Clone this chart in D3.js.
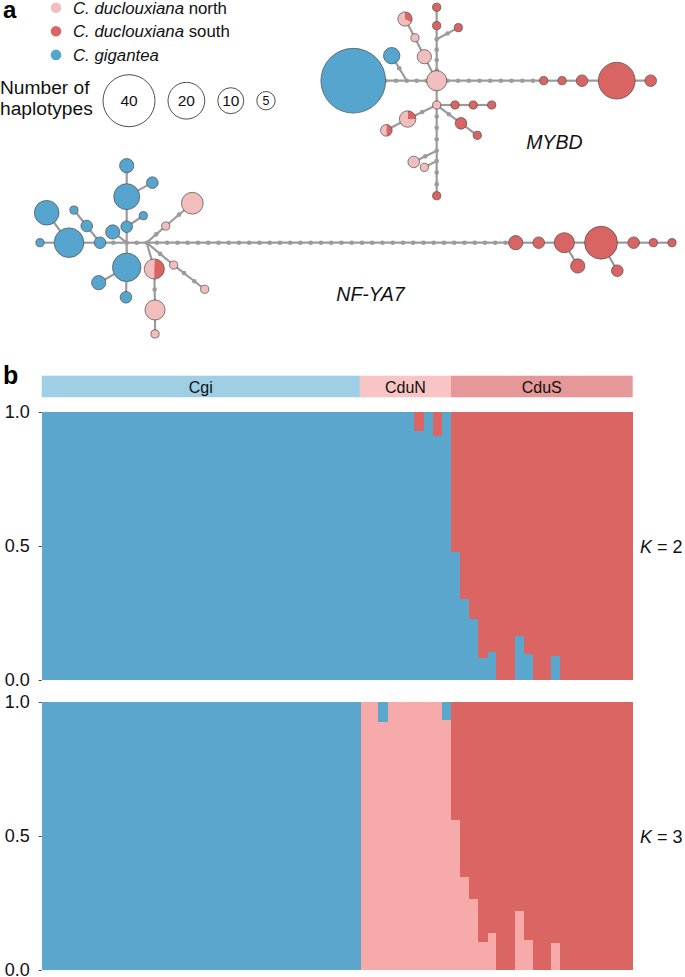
<!DOCTYPE html>
<html><head><meta charset="utf-8">
<script src="https://cdn.jsdelivr.net/npm/d3@7"></script>
<style>
html,body{margin:0;padding:0;background:#fff;}
svg{display:block;font-family:"Liberation Sans",Arial,Helvetica,sans-serif;}
</style></head><body>
<svg id="fig" width="685" height="977"></svg>
<script>
// ================= DATA =================
const populations = ["C. duclouxiana north", "C. duclouxiana south", "C. gigantea"];
const legendSizes = [40, 20, 10, 5];

// Haplotype networks: layout coordinates in mutational-step units (network layout output),
// counts = [north, south, gigantea]; nodes without counts are median vectors.
const mybdNodes = [
  {id:"C",   x:0,     y:0,     n:[6,0,0]},
  {id:"B",   x:-8.10, y:0,     n:[0,0,62]},
  {id:"J1",  x:-2.91, y:0,     n:[0,0,0]},
  {id:"S",   x:-4.37, y:-2.43, n:[0,0,4]},
  {id:"P1",  x:-1.20, y:-2.33, n:[3,0,0]},
  {id:"P2",  x:-2.11, y:-4.17, n:[1,0,0]},
  {id:"P3",  x:-3.08, y:-5.99, n:[2,1,0]},
  {id:"J2",  x:0,     y:-4.02, n:[0,0,0]},
  {id:"Ru1", x:0,     y:-5.34, n:[0,1,0]},
  {id:"Ru2", x:0,     y:-7.13, n:[0,1,0]},
  {id:"Rs",  x:2.10,  y:-5.15, n:[0,1,0]},
  {id:"Ra",  x:10.39, y:0,     n:[0,1,0]},
  {id:"Rb",  x:12.17, y:0,     n:[0,1,0]},
  {id:"Rc",  x:14.11, y:0,     n:[0,2,0]},
  {id:"RB",  x:17.48, y:0,     n:[0,20,0]},
  {id:"Rd",  x:20.78, y:0,     n:[0,2,0]},
  {id:"P4",  x:0,     y:2.36,  n:[1,0,0]},
  {id:"Rh1", x:1.78,  y:2.36,  n:[0,1,0]},
  {id:"Rh2", x:3.55,  y:2.36,  n:[0,1,0]},
  {id:"Rh3", x:5.34,  y:2.36,  n:[0,1,0]},
  {id:"Rd1", x:2.36,  y:4.14,  n:[0,2,0]},
  {id:"Rd2", x:3.94,  y:5.30,  n:[0,1,0]},
  {id:"PA",  x:-2.82, y:3.72,  n:[3,1,0]},
  {id:"PB",  x:-4.89, y:4.82,  n:[1,1,0]},
  {id:"J3",  x:0,     y:6.80,  n:[0,0,0]},
  {id:"J4",  x:0,     y:7.80,  n:[0,0,0]},
  {id:"P5",  x:-2.23, y:7.89,  n:[2,0,0]},
  {id:"P6",  x:-1.20, y:8.41,  n:[1,0,0]},
  {id:"Rbot",x:0,     y:11.17, n:[0,1,0]}
];
// [from, to, number of intermediate mutations]
const mybdEdges = [
  ["B","J1",4],["J1","C",2],["J1","S",1],["C","P1",0],["P1","P2",0],["P2","P3",0],
  ["C","J2",3],["J2","Ru1",0],["Ru1","Ru2",0],["J2","Rs",1],
  ["C","Ra",9],["Ra","Rb",0],["Rb","Rc",0],["Rc","RB",0],["RB","Rd",0],
  ["C","P4",0],["P4","Rh1",0],["Rh1","Rh2",0],["Rh2","Rh3",0],["P4","Rd1",1],["Rd1","Rd2",0],
  ["P4","PA",1],["PA","PB",0],["P4","J3",3],["J3","J4",0],["J3","P5",1],["J4","P6",0],["J4","Rbot",2]
];

const nfyaNodes = [
  {id:"J0",   x:0,     y:0,     n:[0,0,0]},
  {id:"Bs1",  x:-8.42, y:0,     n:[0,0,1]},
  {id:"Bbig", x:-5.60, y:0,     n:[0,0,13]},
  {id:"Btl",  x:-7.77, y:-2.91, n:[0,0,9]},
  {id:"B2",   x:-2.59, y:0,     n:[0,0,2]},
  {id:"Bsm",  x:-5.12, y:-3.17, n:[0,0,1]},
  {id:"Bmid", x:-3.88, y:-1.62, n:[0,0,2]},
  {id:"Bu1",  x:0,     y:-1.55, n:[0,0,2]},
  {id:"Bu1r", x:1.61,  y:-2.62, n:[0,0,1]},
  {id:"Bu2",  x:0,     y:-4.47, n:[0,0,10]},
  {id:"Bu2r", x:2.49,  y:-5.83, n:[0,0,2]},
  {id:"Bu3",  x:0,     y:-7.48, n:[0,0,3]},
  {id:"Bl",   x:-1.36, y:-1.04, n:[0,0,3]},
  {id:"Bd1",  x:0,     y:2.39,  n:[0,0,12]},
  {id:"Bd1l", x:-2.72, y:3.88,  n:[0,0,3]},
  {id:"Bd2",  x:-0.07, y:5.30,  n:[0,0,2]},
  {id:"J1",   x:1.94,  y:0,     n:[0,0,0]},
  {id:"Pu1",  x:3.79,  y:-1.62, n:[1,0,0]},
  {id:"Pu2",  x:6.37,  y:-3.83, n:[7,0,0]},
  {id:"PC",   x:2.68,  y:2.55,  n:[3,3,0]},
  {id:"Pd",   x:2.75,  y:6.53,  n:[6,0,0]},
  {id:"Ps",   x:2.75,  y:8.86,  n:[1,0,0]},
  {id:"Pr1",  x:4.56,  y:2.17,  n:[1,0,0]},
  {id:"Pr2",  x:7.57,  y:4.52,  n:[1,0,0]},
  {id:"Rc1",  x:37.77, y:0,     n:[0,3,0]},
  {id:"Rc2",  x:40.00, y:0,     n:[0,2,0]},
  {id:"Rc3",  x:42.49, y:0,     n:[0,6,0]},
  {id:"Rbig", x:46.05, y:0,     n:[0,16,0]},
  {id:"Rc3d", x:43.79, y:2.26,  n:[0,3,0]},
  {id:"Rbigd",x:47.63, y:2.72,  n:[0,2,0]},
  {id:"Rr1",  x:49.22, y:0,     n:[0,2,0]},
  {id:"Rr2",  x:51.13, y:0,     n:[0,1,0]},
  {id:"Rr3",  x:52.94, y:0,     n:[0,1,0]}
];
const nfyaEdges = [
  ["Bs1","Bbig",0],["Bbig","Btl",0],["Bbig","B2",0],["B2","J0",1],["Bsm","Bmid",0],["Bmid","B2",0],
  ["J0","Bu1",0],["Bu1","Bu1r",0],["Bu1","Bu2",0],["Bu2","Bu2r",0],["Bu2","Bu3",0],["J0","Bl",0],
  ["J0","Bd1",0],["Bd1","Bd1l",0],["Bd1","Bd2",0],["J0","J1",1],
  ["J1","Pu1",1],["Pu1","Pu2",1],["J1","PC",0],["PC","Pd",1],["Pd","Ps",0],["J1","Pr1",1],["Pr1","Pr2",2],
  ["J1","Rc1",35],["Rc1","Rc2",0],["Rc2","Rc3",0],["Rc3","Rbig",0],["Rc3","Rc3d",0],
  ["Rbig","Rbigd",0],["Rbig","Rr1",0],["Rr1","Rr2",0],["Rr2","Rr3",0]
];

// STRUCTURE
const groupNames = ["Cgi", "CduN", "CduS"];
const groupSizes = [35, 10, 20];
const kLabels = ["2", "3"];
const tickValues = [0, 0.5, 1.0];
// K = 2: ancestry proportion of the gigantea cluster (remainder = duclouxiana cluster)
const k2Cgi = [
  1,1,1,1,1,1,1,1,1,1, 1,1,1,1,1,1,1,1,1,1, 1,1,1,1,1,1,1,1,1,1, 1,1,1,1,1,
  1,1,1,1,1,1,0.928,1,0.909,1,
  0.476,0.303,0.227,0.083,0.103,0,0,0.166,0.097,0,0,0.09,0,0,0,0,0,0,0,0
];
// K = 3: gigantea and north clusters (remainder = south cluster)
const k3Cgi = [
  1,1,1,1,1,1,1,1,1,1, 1,1,1,1,1,1,1,1,1,1, 1,1,1,1,1,1,1,1,1,1, 1,1,1,1,1,
  0,0,0.075,0,0,0,0,0,0,0.067,
  0,0,0,0,0,0,0,0,0,0,0,0,0,0,0,0,0,0,0,0
];
const k3CduN = [
  0,0,0,0,0,0,0,0,0,0, 0,0,0,0,0,0,0,0,0,0, 0,0,0,0,0,0,0,0,0,0, 0,0,0,0,0,
  1,1,0.925,1,1,1,1,1,1,0.933,
  0.558,0.347,0.266,0.103,0.137,0,0,0.219,0.112,0,0,0.10,0,0,0,0,0,0,0,0
];

// ================= STYLE =================
const netColors = ["#F2BDBD", "#D96464", "#56A5CF"];
const barColors = {cgi:"#5AA6CD", cduN:"#F6AAAA", cduS:"#DA6563"};
const headColors = ["#9ECFE4", "#F8C4C4", "#E69797"];
const STEP = 10.3;

const svg = d3.select("#fig");
const rScale = d3.scaleSqrt().domain([0, 40]).range([0, 26]);

// ---------- panel labels ----------
svg.append("text").attr("x", 3).attr("y", 18).attr("font-size", 24).attr("font-weight", "bold").text("a");
svg.append("text").attr("x", 3).attr("y", 384).attr("font-size", 25).attr("font-weight", "bold").text("b");

// ---------- legend ----------
const leg = svg.append("g");
populations.forEach((p, i) => {
  const yy = 7.7 + i * 23.6;
  leg.append("circle").attr("cx", 56).attr("cy", yy).attr("r", 5.3).attr("fill", netColors[i]);
  const t = leg.append("text").attr("x", 73).attr("y", yy + 6).attr("font-size", 16.8).attr("fill", "#111");
  const parts = p.split(" ");
  t.append("tspan").attr("font-style", "italic").text(parts[0] + " " + parts[1]);
  if (parts[2]) t.append("tspan").text(" " + parts[2]);
});
leg.append("text").attr("x", 0).attr("y", 94.3).attr("font-size", 19.2).attr("fill", "#111").text("Number of");
leg.append("text").attr("x", 0).attr("y", 115).attr("font-size", 19.2).attr("fill", "#111").text("haplotypes");
let lx = 103;
legendSizes.forEach((s, i) => {
  const r = rScale(s);
  const cx = lx + r;
  leg.append("circle").attr("cx", cx).attr("cy", 100.7).attr("r", r).attr("fill", "#fff")
    .attr("stroke", "#222").attr("stroke-width", 0.8);
  leg.append("text").attr("x", cx).attr("y", 100.7).attr("dy", "0.36em").attr("text-anchor", "middle")
    .attr("font-size", s >= 10 ? 15.5 : 12.5).attr("fill", "#111").text(s);
  lx = cx + r + 13;
});

// ---------- networks ----------
function drawNetwork(nodes, edges, origin) {
  const g = svg.append("g");
  const x = d3.scaleLinear().domain([0, 1]).range([origin[0], origin[0] + STEP]);
  const y = d3.scaleLinear().domain([0, 1]).range([origin[1], origin[1] + STEP]);
  const byId = new Map(nodes.map(d => [d.id, d]));
  g.selectAll("line").data(edges).join("line")
    .attr("x1", e => x(byId.get(e[0]).x)).attr("y1", e => y(byId.get(e[0]).y))
    .attr("x2", e => x(byId.get(e[1]).x)).attr("y2", e => y(byId.get(e[1]).y))
    .attr("stroke", "#9B9B9B").attr("stroke-width", 2.2);
  const dots = edges.flatMap(e => {
    const a = byId.get(e[0]), b = byId.get(e[1]);
    return d3.range(1, e[2] + 1).map(i => ({x: a.x + (b.x - a.x) * i / (e[2] + 1), y: a.y + (b.y - a.y) * i / (e[2] + 1)}));
  }).concat(nodes.filter(d => d3.sum(d.n) === 0));
  g.selectAll("circle.mut").data(dots).join("circle").attr("class", "mut")
    .attr("cx", d => x(d.x)).attr("cy", d => y(d.y)).attr("r", 2.3).attr("fill", "#9B9B9B");
  const pie = d3.pie().sort(null).value(d => d.v);
  const hap = nodes.filter(d => d3.sum(d.n) > 0);
  const ng = g.selectAll("g.hap").data(hap).join("g").attr("class", "hap")
    .attr("transform", d => `translate(${x(d.x)},${y(d.y)})`);
  ng.each(function(d) {
    const r = rScale(d3.sum(d.n));
    const sel = d3.select(this);
    const parts = [{k:1, v:d.n[1]}, {k:0, v:d.n[0]}, {k:2, v:d.n[2]}].filter(p => p.v > 0);
    if (parts.length > 1) {
      const arc = d3.arc().innerRadius(0).outerRadius(r);
      sel.selectAll("path").data(pie(parts)).join("path").attr("d", arc).attr("fill", p => netColors[p.data.k]);
      sel.append("circle").attr("r", r).attr("fill", "none").attr("stroke", "#4a4a4a").attr("stroke-width", 0.7);
    } else {
      sel.append("circle").attr("r", r).attr("fill", netColors[parts[0].k]).attr("stroke", "#4a4a4a").attr("stroke-width", 0.7);
    }
  });
  return g;
}
drawNetwork(mybdNodes, mybdEdges, [436.7, 80.7]);
drawNetwork(nfyaNodes, nfyaEdges, [126.7, 242.7]);
svg.append("text").attr("x", 554.3).attr("y", 149.3).attr("text-anchor", "middle").attr("font-size", 19.5)
  .attr("font-style", "italic").attr("fill", "#111").text("MYBD");
svg.append("text").attr("x", 370.5).attr("y", 301).attr("text-anchor", "middle").attr("font-size", 19.5)
  .attr("font-style", "italic").attr("fill", "#111").text("NF-YA7");

// ---------- STRUCTURE ----------
const nInd = k2Cgi.length;
const xb = d3.scaleBand().domain(d3.range(nInd)).range([41.7, 632.7]).padding(0);
// header
let start = 0;
groupNames.forEach((gname, i) => {
  const x0 = xb(start), x1 = xb(start + groupSizes[i] - 1) + xb.bandwidth();
  svg.append("rect").attr("x", x0).attr("y", 375.7).attr("width", x1 - x0).attr("height", 21.6).attr("fill", headColors[i]);
  svg.append("text").attr("x", (x0 + x1) / 2).attr("y", 392.6).attr("text-anchor", "middle")
    .attr("font-size", 16).attr("fill", "#111").text(gname);
  start += groupSizes[i];
});

function drawStructure(rows, keys, colors, y0, y1, k) {
  const y = d3.scaleLinear().domain([0, 1]).range([y1, y0]);
  const stack = d3.stack().keys(keys)(rows);
  const g = svg.append("g").attr("shape-rendering", "crispEdges");
  g.selectAll("g").data(stack).join("g").attr("fill", s => colors[s.key])
    .selectAll("rect").data(s => s.map((v, i) => ({v, i})).filter(d => d.v[1] > d.v[0])).join("rect")
    .attr("x", d => xb(d.i)).attr("width", xb.bandwidth() + 0.6)
    .attr("y", d => y(d.v[1])).attr("height", d => y(d.v[0]) - y(d.v[1]));
  const ax = svg.append("g").attr("transform", `translate(41.7,0)`)
    .call(d3.axisLeft(y).tickValues(tickValues).tickFormat(d3.format(".1f")).tickSize(3).tickPadding(9));
  ax.select(".domain").remove();
  ax.selectAll("line").attr("stroke", "#444");
  ax.selectAll("text").attr("font-size", 18).attr("fill", "#111").attr("font-family", '"Liberation Sans",Arial,sans-serif');
  const t = svg.append("text").attr("x", 640).attr("y", (y0 + y1) / 2 + 6.5).attr("font-size", 18).attr("fill", "#111");
  t.append("tspan").attr("font-style", "italic").text("K");
  t.append("tspan").text(" = " + k);
}
const rowsK2 = k2Cgi.map(v => ({cgi: v, cduS: 1 - v}));
drawStructure(rowsK2, ["cgi", "cduS"], barColors, 412, 680, kLabels[0]);
const rowsK3 = k3Cgi.map((v, i) => ({cduN: k3CduN[i], cduS: Math.max(0, 1 - v - k3CduN[i]), cgi: v}));
drawStructure(rowsK3, ["cduN", "cduS", "cgi"], barColors, 702, 970, kLabels[1]);
</script>
</body></html>
